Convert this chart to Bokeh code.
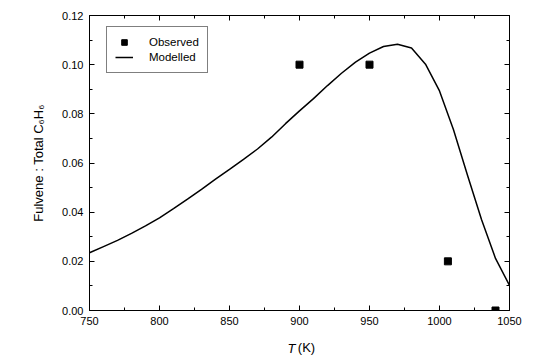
from bokeh.plotting import figure
from bokeh.models import Range1d, LinearAxis, FixedTicker, Legend, LegendItem, NumeralTickFormatter, CustomJSTickFormatter
from bokeh.embed import file_html
from bokeh.resources import INLINE

# Modelled curve
model_T = [750, 760, 770, 780, 790, 800, 810, 820, 830, 840, 850, 860, 870, 880, 890,
           900, 910, 920, 930, 940, 950, 960, 970, 980, 990, 1000, 1010, 1020, 1030, 1040, 1050]
model_ratio = [0.0235, 0.0260, 0.0285, 0.0314, 0.0344, 0.0377, 0.0414, 0.0453, 0.0493, 0.0534,
               0.0574, 0.0615, 0.0657, 0.0705, 0.0760, 0.0812, 0.0862, 0.0915, 0.0965, 0.1010,
               0.1047, 0.1074, 0.1083, 0.1068, 0.1002, 0.0893, 0.0735, 0.0550, 0.0370, 0.0212, 0.0102]

# Observed points
obs_T = [900, 950, 1006, 1040]
obs_ratio = [0.10, 0.10, 0.02, 0.0]

x_ticks = [750, 800, 850, 900, 950, 1000, 1050]
x_minor = [775, 825, 875, 925, 975, 1025]
y_ticks = [0.00, 0.02, 0.04, 0.06, 0.08, 0.10, 0.12]
y_minor = [0.01, 0.03, 0.05, 0.07, 0.09, 0.11]

x_title_symbol = "T"
x_title_unit = "(K)"

FONT = "Liberation Sans"

p = figure(width=537, height=358, output_backend="svg", toolbar_location=None,
           x_range=Range1d(750, 1050), y_range=Range1d(0, 0.12),
           min_border_left=89, min_border_right=28, min_border_top=15, min_border_bottom=48)
p.grid.visible = False
p.outline_line_color = "black"
p.outline_line_width = 1
p.background_fill_color = "white"
p.border_fill_color = "white"

def style_axis(ax, ticks, minor, show_labels):
    ax.ticker = FixedTicker(ticks=ticks, minor_ticks=minor)
    ax.axis_line_color = "black"
    ax.major_tick_line_color = "black"
    ax.minor_tick_line_color = "black"
    ax.major_tick_in = 5
    ax.major_tick_out = 0
    ax.minor_tick_in = 3
    ax.minor_tick_out = 0
    ax.major_label_text_font = FONT
    ax.major_label_text_color = "black"
    ax.major_label_text_font_size = "11px"
    if show_labels:
        ax.major_label_standoff = 6
    else:
        ax.formatter = CustomJSTickFormatter(code="return ''")
        ax.major_label_standoff = 0

style_axis(p.xaxis[0], x_ticks, x_minor, True)
style_axis(p.yaxis[0], y_ticks, y_minor, True)
p.yaxis[0].formatter = NumeralTickFormatter(format="0.00")
p.yaxis[0].axis_label = "Fulvene : Total C\u2086H\u2086"
p.yaxis[0].axis_label_text_font = FONT
p.yaxis[0].axis_label_text_font_style = "normal"
p.yaxis[0].axis_label_text_font_size = "13px"
p.yaxis[0].axis_label_text_color = "black"
p.yaxis[0].axis_label_standoff = 13

top_ax = LinearAxis()
style_axis(top_ax, x_ticks, x_minor, False)
p.add_layout(top_ax, "above")
right_ax = LinearAxis()
style_axis(right_ax, y_ticks, y_minor, False)
p.add_layout(right_ax, "right")

# x-axis title built from two label-only axes: italic "T" and upright "(K)"
def title_axis(text, at, italic, standoff):
    ax = LinearAxis(ticker=FixedTicker(ticks=[at], minor_ticks=[]),
                    formatter=CustomJSTickFormatter(code="return %r" % text))
    ax.axis_line_color = None
    ax.major_tick_line_color = None
    ax.minor_tick_line_color = None
    ax.major_tick_in = 0
    ax.major_tick_out = 0
    ax.minor_tick_in = 0
    ax.minor_tick_out = 0
    ax.major_label_standoff = standoff
    ax.major_label_text_font = FONT
    ax.major_label_text_font_size = "13px"
    ax.major_label_text_font_style = "italic" if italic else "normal"
    ax.major_label_text_color = "black"
    return ax

p.add_layout(title_axis(x_title_symbol, 894.3, True, 13), "below")
p.add_layout(title_axis(x_title_unit, 905.0, False, -19), "below")

line_r = p.line(model_T, model_ratio, line_color="black", line_width=1.5)
pts_r = p.scatter(obs_T, obs_ratio, marker="square", size=7, fill_color="black", line_color="black")

legend = Legend(items=[LegendItem(label="Observed", renderers=[pts_r]),
                       LegendItem(label="Modelled", renderers=[line_r])],
                location=(17, 237))
legend.border_line_color = "black"
legend.border_line_width = 1
legend.background_fill_color = "white"
legend.background_fill_alpha = 1
legend.label_text_font = FONT
legend.label_text_font_size = "11.5px"
legend.label_text_color = "black"
legend.glyph_width = 18
legend.glyph_height = 14
legend.label_height = 14
legend.label_standoff = 16
legend.padding = 8
legend.spacing = 1
legend.margin = 0
p.add_layout(legend, "center")

open("out.html", "w").write(file_html(p, INLINE))
